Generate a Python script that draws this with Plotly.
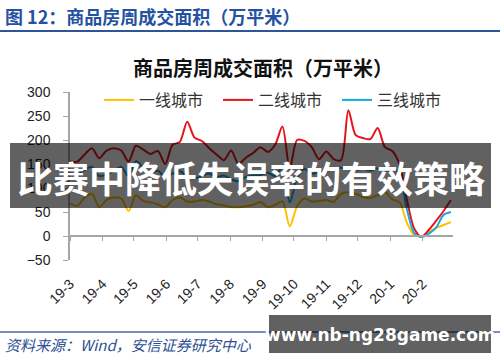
import pandas as pd
import plotly.graph_objects as go

# ---------------- data ----------------
weeks = pd.date_range("2019-03-01", periods=53, freq="7D")

tier1 = [68, 63, 80, 88, 60, 75, 80, 78, 52, 85, 73, 70, 66, 60, 75, 80, 72, 72, 75, 72,
         66, 64, 60, 60, 62, 65, 71, 60, 65, 72, 20, 62, 78, 72, 73, 75, 71, 88, 91, 88,
         81, 79, 85, 92, 76, 70, 27, 2, 0, 8, 17, 23, 29]
tier2 = [155, 155, 170, 183, 162, 178, 183, 178, 155, 188, 180, 171, 177, 150, 190, 196, 238, 205, 198, 183,
         170, 158, 178, 150, 163, 173, 185, 175, 190, 228, 140, 200, 198, 185, 160, 176, 160, 158, 262, 210,
         204, 202, 225, 185, 177, 148, 75, 15, -2, 13, 32, 52, 75]
tier3 = [131, 128, 138, 144, 125, 128, 135, 144, 125, 156, 142, 132, 136, 122, 130, 135, 125, 120, 125, 130,
         123, 126, 118, 114, 123, 126, 127, 132, 125, 143, 70, 121, 140, 130, 133, 135, 140, 142, 140, 137,
         140, 136, 141, 134, 142, 128, 55, 6, -2, 5, 18, 44, 50]

series_names = ["一线城市", "二线城市", "三线城市"]
series_colors = ["#FFC000", "#E8141B", "#16A8E0"]

tick_dates = ["2019-03-01", "2019-04-01", "2019-05-01", "2019-06-01", "2019-07-01", "2019-08-01",
              "2019-09-01", "2019-10-01", "2019-11-01", "2019-12-01", "2020-01-01", "2020-02-01"]
tick_labels = ["19-3", "19-4", "19-5", "19-6", "19-7", "19-8",
               "19-9", "19-10", "19-11", "19-12", "20-1", "20-2"]

# ---------------- geometry helpers (page px -> paper) ----------------
L, R, T, B = 70, 453, 92, 260
def px(x):
    return (x - L) / (R - L)
def py(y):
    return (B - y) / (B - T)

fig = go.Figure()
for name, vals, col in zip(series_names, [tier1, tier2, tier3], series_colors):
    fig.add_trace(go.Scatter(x=weeks, y=vals, name=name, mode="lines",
                             line=dict(color=col, width=2, shape="spline", smoothing=0.8),
                             hoverinfo="skip"))
# helper trace for the axis drawn at zero
fig.add_trace(go.Scatter(x=weeks, y=[None] * len(weeks), xaxis="x2", showlegend=False,
                         hoverinfo="skip", mode="lines"))

xr = ["2019-03-01", "2020-03-01"]
fig.update_layout(
    width=500, height=362,
    margin=dict(l=L, r=500 - R, t=T, b=362 - B, pad=0),
    paper_bgcolor="white", plot_bgcolor="white",
    font=dict(family="Liberation Sans, Arial, Noto Sans CJK SC", size=13, color="#222"),
    showlegend=True,
    legend=dict(orientation="h", x=px(99), y=py(100), xanchor="left", yanchor="middle",
                font=dict(family="Noto Sans CJK SC", size=16, color="#333"),
                bgcolor="rgba(0,0,0,0)", itemwidth=30, entrywidth=74, traceorder="normal"),
    xaxis=dict(type="date", range=xr, tickmode="array", tickvals=tick_dates, ticktext=tick_labels,
               tickangle=-45, showgrid=False, showline=False, zeroline=False, ticks="",
               ticklabelstandoff=12,
               tickfont=dict(size=14, color="#222"), fixedrange=True),
    xaxis2=dict(type="date", range=xr, overlaying="x", anchor="free", position=py(236),
                tickmode="array", tickvals=tick_dates, showticklabels=False,
                showline=True, linecolor="#A6A6A6", linewidth=1.5, ticks="outside",
                ticklen=4, tickcolor="#A6A6A6", showgrid=False, zeroline=False),
    yaxis=dict(range=[-50, 300], dtick=50, showgrid=False, zeroline=False,
               showline=True, linecolor="#A6A6A6", linewidth=1.5, ticks="outside",
               ticklen=5, tickcolor="#A6A6A6", ticklabelstandoff=10,
               tickfont=dict(size=14, color="#222")),
)

shapes = [
    dict(type="line", xref="paper", yref="paper", x0=px(0), x1=px(500), y0=py(31), y1=py(31),
         line=dict(color="#2E5597", width=2)),
    dict(type="line", xref="paper", yref="paper", x0=px(0), x1=px(500), y0=py(332), y1=py(332),
         line=dict(color="#4A68A8", width=1.5)),
    dict(type="rect", xref="paper", yref="paper", x0=px(10), x1=px(491), y0=py(208), y1=py(143),
         fillcolor="rgba(0,0,0,0.62)", line=dict(width=0), layer="above"),
    dict(type="rect", xref="paper", yref="paper", x0=px(269), x1=px(491), y0=py(353), y1=py(315),
         fillcolor="rgba(0,0,0,0.62)", line=dict(width=0), layer="above"),
]
fig.update_layout(shapes=shapes)

ann = [
    dict(text="图 12：商品房周成交面积（万平米）", x=px(3), y=py(16), xanchor="left", yanchor="middle",
         font=dict(family="Noto Sans CJK SC", size=18, color="#2452A0", weight="bold")),
    dict(text="商品房周成交面积（万平米）", x=px(263), y=py(67), xanchor="center", yanchor="middle",
         font=dict(family="Noto Sans CJK SC", size=20, color="#111", weight="bold")),
    dict(text="资料来源：Wind，安信证券研究中心", x=px(3), y=py(344), xanchor="left", yanchor="middle",
         font=dict(family="Noto Sans CJK SC", size=15, color="#2E4F93", style="italic")),
    dict(text="比赛中降低失误率的有效策略", x=px(251), y=py(177), xanchor="center", yanchor="middle",
         font=dict(family="Noto Sans CJK SC", size=36, color="white", weight="bold")),
    dict(text="www.nb-ng28game.com", x=px(380), y=py(335), xanchor="center", yanchor="middle",
         font=dict(family="DejaVu Sans, Noto Sans", size=17, color="white", weight="bold")),
]
for a in ann:
    a.update(xref="paper", yref="paper", showarrow=False)
fig.update_layout(annotations=ann)

fig.write_html("out.html", config={"displayModeBar": False},
               post_script="document.body.style.margin='0px';document.body.style.padding='0px';")
